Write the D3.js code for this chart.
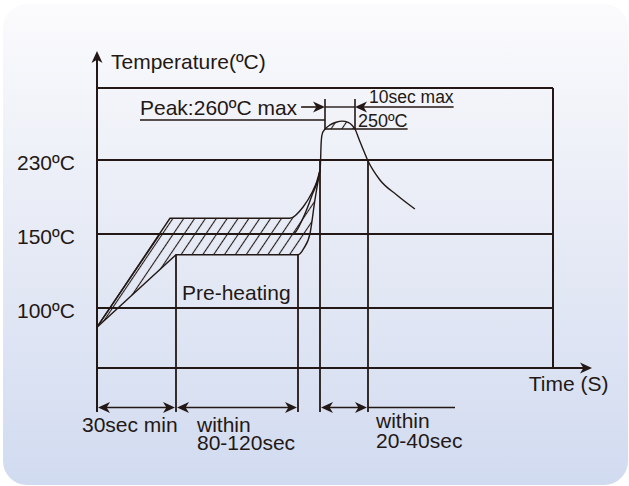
<!DOCTYPE html>
<html>
<head>
<meta charset="utf-8">
<script src="https://cdn.jsdelivr.net/npm/d3@7"></script>
<style>
  html, body { margin: 0; padding: 0; background: #fff; }
  svg { display: block; }
  text { font-family: "Liberation Sans", Arial, Helvetica, sans-serif; fill: #231815; }
</style>
</head>
<body>
<div id="chart"></div>
<script>
// temperature gridlines and their labels
const gridTemps = [230, 150, 100];
const gridLabels = ["230ºC", "150ºC", "100ºC"];

// schematic (not to scale) axis breakpoints
const tempBreaks = [0, 100, 150, 230, 250, 260, 300];
const timeBreaks = [0, 30, 150, 160, 165, 175, 190, 300];

// reflow profile envelopes, [time (s), temperature (ºC)]
const upperRamp = [[0, 68], [27.7, 167]];
const upperCurve = [[27.7, 167], [142, 167], [152.4, 179.5], [156.2, 194], [158.5, 206.5], [160, 219]];
const lowerRamp = [[0, 68], [30, 136]];
const lowerCurve = [[30, 136], [150, 136], [152.7, 140.5], [155.5, 151], [157.7, 186.8], [160, 219]];
const midRamp = [[0, 68], [23.9, 150]];
const midCurve = [
  [23.9, 150], [145, 150], [152.3, 167.3], [156.4, 192.2], [160, 219],
  [160.6, 230], [161, 239], [161.5, 243.9], [162.5, 247.4], [164.5, 249.5],
  [166.7, 254.5], [168.7, 257.5], [170.7, 258.8], [172.7, 257.3], [174, 254.2],
  [175, 250], [179.6, 243.5], [184.2, 237.1], [189.5, 230], [197.1, 208.4],
  [207.1, 192.2], [217.9, 177]
];

// dimension annotations
const peakTemp = 260;
const dwellTemp = 250;
const peakWindow = [165, 175];
const bottomSpans = [[0, 30], [30, 150], [160, 190]];
const spanLabels = [["30sec min"], ["within", "80-120sec"], ["within", "20-40sec"]];
const dropLines = [[30, 136], [150, 136], [160, 230], [190, 230]];

const width = 629;
const height = 486;
const ink = "#231815";

const x = d3.scaleLinear().domain(timeBreaks).range([97, 176, 298, 320, 325, 355, 368, 553]);
const y = d3.scaleLinear().domain(tempBreaks).range([368, 308, 234, 160, 129, 120, 88]);

const tMin = timeBreaks[0], tMax = timeBreaks[timeBreaks.length - 1];
const TMin = tempBreaks[0], TMax = tempBreaks[tempBreaks.length - 1];
const dimY = 407.5;
const dimBottom = 412;

const svg = d3
  .create("svg")
  .attr("width", width)
  .attr("height", height)
  .attr("viewBox", [0, 0, width, height]);

// attach early so text lengths can be measured
document.getElementById("chart").append(svg.node());

const defs = svg.append("defs");

const grad = defs
  .append("linearGradient")
  .attr("id", "bg")
  .attr("x1", 0).attr("y1", 0).attr("x2", 0).attr("y2", 1);
grad.append("stop").attr("offset", "0%").attr("stop-color", "#fbfbfd");
grad.append("stop").attr("offset", "50%").attr("stop-color", "#e6eaf5");
grad.append("stop").attr("offset", "100%").attr("stop-color", "#d1dbf0");

defs
  .append("pattern")
  .attr("id", "hatch")
  .attr("patternUnits", "userSpaceOnUse")
  .attr("width", 9)
  .attr("height", 9)
  .attr("patternTransform", "rotate(34)")
  .append("line")
  .attr("x1", 4.5).attr("y1", -1).attr("x2", 4.5).attr("y2", 10)
  .attr("stroke", ink)
  .attr("stroke-width", 1.1);

defs
  .append("clipPath")
  .attr("id", "dome")
  .append("rect")
  .attr("x", x(peakWindow[0]) - 2)
  .attr("y", y(TMax))
  .attr("width", x(peakWindow[1]) - x(peakWindow[0]) + 4)
  .attr("height", y(dwellTemp) - y(TMax));

// card background
svg
  .append("rect")
  .attr("x", 3).attr("y", 4)
  .attr("width", 625).attr("height", 481)
  .attr("rx", 24)
  .attr("fill", "url(#bg)");

function arrowHead(tipX, tipY, angle, len = 12, half = 5.5) {
  svg
    .append("path")
    .attr("d", `M0,0L${-len},${-half}L${-len * 0.72},0L${-len},${half}Z`)
    .attr("transform", `translate(${tipX},${tipY}) rotate(${angle})`)
    .attr("fill", ink);
}

function hline(x1, x2, yy, w = 2) {
  svg.append("line")
    .attr("x1", x1).attr("x2", x2).attr("y1", yy).attr("y2", yy)
    .attr("stroke", ink).attr("stroke-width", w);
}
function vline(xx, y1, y2, w = 2) {
  svg.append("line")
    .attr("x1", xx).attr("x2", xx).attr("y1", y1).attr("y2", y2)
    .attr("stroke", ink).attr("stroke-width", w);
}

// frame and gridlines
hline(x(tMin), x(tMax), y(TMax));
vline(x(tMax), y(TMax), y(TMin));
gridTemps.forEach((t) => hline(x(tMin), x(tMax), y(t)));

// axes with arrows
hline(x(tMin), 585, y(TMin));
arrowHead(592, y(TMin), 0);
vline(x(tMin), dimBottom, 58);
arrowHead(x(tMin), 51, -90);

// hatched bands
const lin = d3.line().x((d) => x(d[0])).y((d) => y(d[1]));
const mono = d3.line().x((d) => x(d[0])).y((d) => y(d[1])).curve(d3.curveMonotoneX);
const join = (a, b) => a + b.replace(/^M/, "L");

const upperD = join(lin(upperRamp), mono(upperCurve));
const lowerD = join(lin(lowerRamp), mono(lowerCurve));
const midD = join(lin(midRamp), mono(midCurve));
const bandD =
  join(upperD, join(mono(lowerCurve.slice().reverse()), lin(lowerRamp.slice().reverse()))) + "Z";

svg.append("path").attr("d", bandD).attr("fill", "url(#hatch)");
svg.append("path").attr("d", midD + "Z").attr("fill", "url(#hatch)").attr("clip-path", "url(#dome)");

[upperD, lowerD, midD].forEach((d) => {
  svg.append("path")
    .attr("d", d)
    .attr("fill", "none")
    .attr("stroke", ink)
    .attr("stroke-width", 1.4);
});

// drop lines to the time dimensions
dropLines.forEach(([t, T]) => vline(x(t), y(T), dimBottom, 1.8));

// bottom dimension arrows
bottomSpans.forEach(([a, b]) => {
  hline(x(a) + 4, x(b) - 4, dimY, 1.6);
  arrowHead(x(a) + 1, dimY, 180);
  arrowHead(x(b) - 1, dimY, 0);
});
hline(x(bottomSpans[2][1]), 455, dimY, 1.6);

// peak window
vline(x(peakWindow[0]), 99, y(dwellTemp), 1.6);
vline(x(peakWindow[1]), 99, y(dwellTemp), 1.6);
hline(x(peakWindow[0]), x(peakWindow[1]), 107, 1.4);

// texts
const text = (str, tx, ty, size = 21, anchor = "start") =>
  svg.append("text")
    .attr("x", tx).attr("y", ty)
    .attr("font-size", size)
    .attr("text-anchor", anchor)
    .text(str);

text("Temperature(ºC)", x(tMin) + 14, 68.5);

gridTemps.forEach((t, i) => text(gridLabels[i], 17, y(t) + 10));

text("Pre-heating", x(30) + 6, 300);
text("Time (S)", 608.5, 391, 21, "end");

const peakLabel = text(`Peak:${peakTemp}ºC max`, 140, 114.5);
const peakEnd = 140 + peakLabel.node().getComputedTextLength();
hline(140, x(peakWindow[0]), y(peakTemp), 1.6);
hline(peakEnd + 4, x(peakWindow[0]) - 6, 107, 1.6);
arrowHead(x(peakWindow[0]), 107, 0);

const tenLabel = text("10sec max", x(peakWindow[1]) + 14, 103, 17.5);
const tenEnd = x(peakWindow[1]) + 14 + tenLabel.node().getComputedTextLength();
hline(x(peakWindow[1]) + 6, tenEnd, 107, 1.6);
arrowHead(x(peakWindow[1]), 107, 180);

const dwellLabel = text(`${dwellTemp}ºC`, x(peakWindow[1]) + 3, 126.5, 18);
const dwellEnd = x(peakWindow[1]) + 3 + dwellLabel.node().getComputedTextLength();
hline(x(peakWindow[0]), dwellEnd, y(dwellTemp), 1.6);

// span labels (multi-line as one text element)
const spanPos = [
  [x(0) - 15, 431.5, 0],
  [x(30) + 21, 431.5, 18.5],
  [x(190) + 8, 428, 19.5]
];
spanLabels.forEach((lines, i) => {
  const [sx, sy, lead] = spanPos[i];
  const t = svg.append("text").attr("x", sx).attr("y", sy).attr("font-size", 21);
  lines.forEach((l, j) =>
    t.append("tspan").attr("x", sx).attr("dy", j === 0 ? 0 : lead).text(l)
  );
});
</script>
</body>
</html>
